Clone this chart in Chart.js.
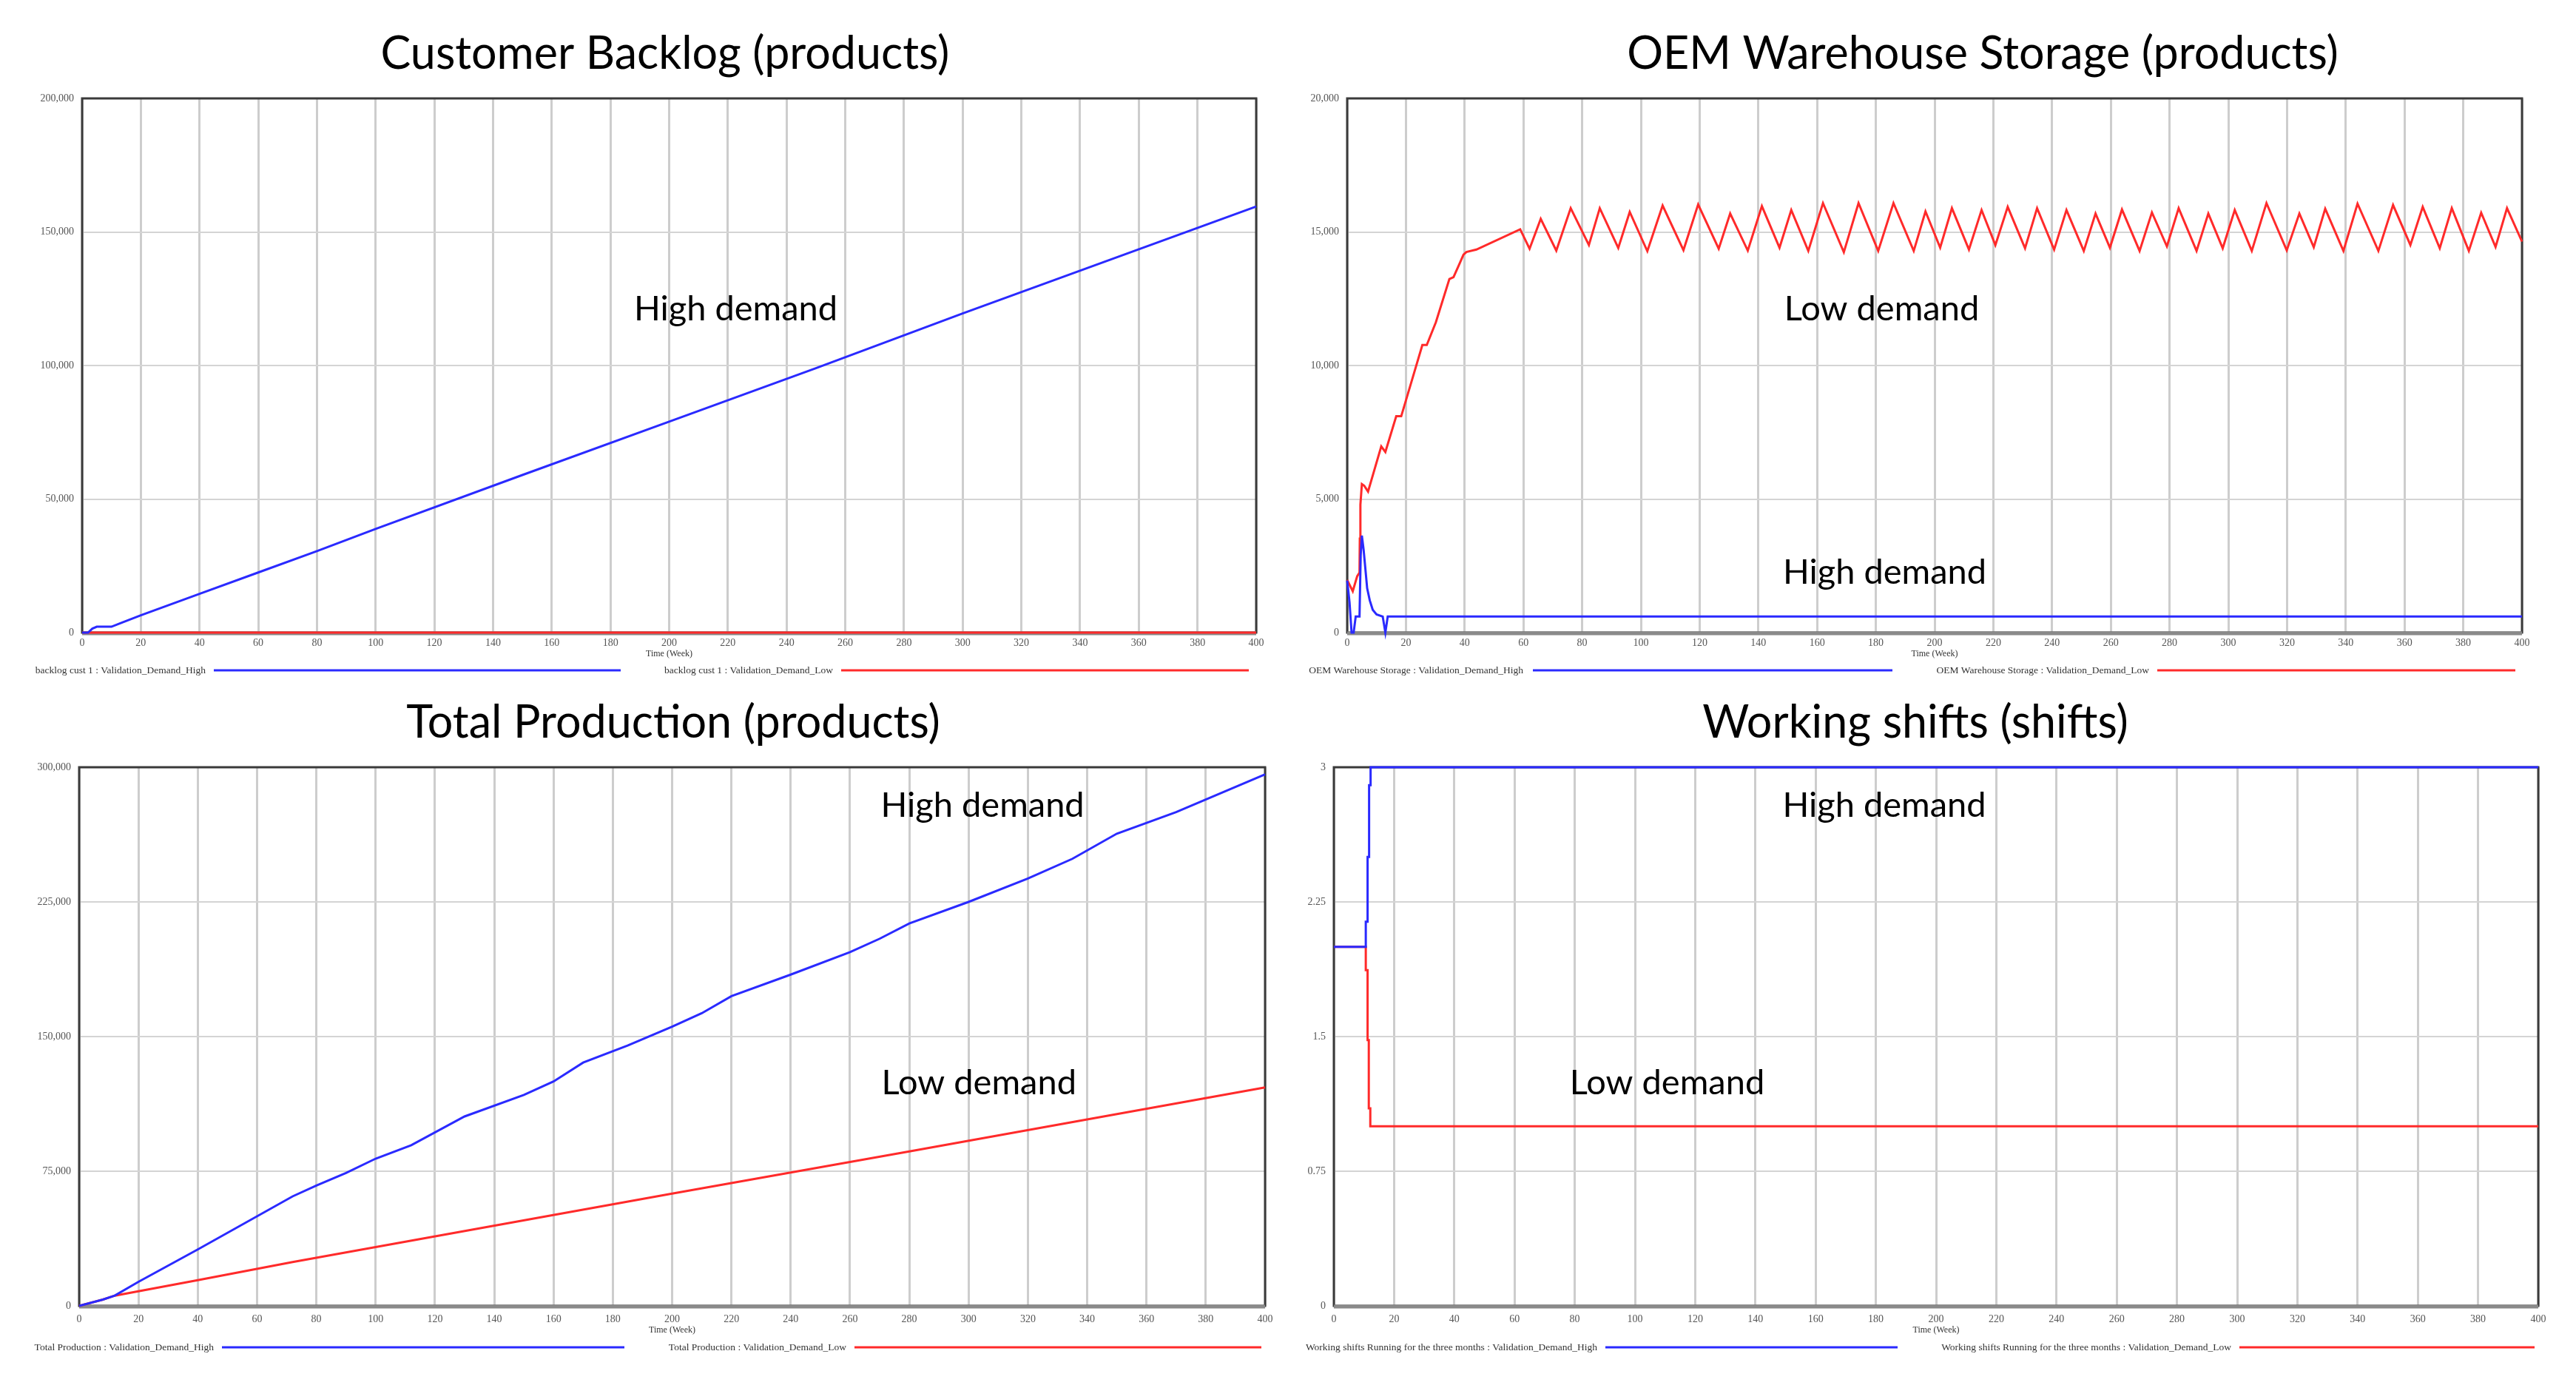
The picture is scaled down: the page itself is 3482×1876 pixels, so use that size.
<!DOCTYPE html>
<html>
<head>
<meta charset="utf-8">
<script src="https://cdn.jsdelivr.net/npm/chart.js@4.4.1/dist/chart.umd.min.js"></script>
<style>
  html, body { margin: 0; padding: 0; background: #fff; overflow: hidden; }
  body { width: 3482px; height: 1876px; position: relative; }
  .panel { position: absolute; }
</style>
</head>
<body>
<div class="panel" style="left:0;top:0"><canvas id="backlog" width="1741" height="938"></canvas></div>
<div class="panel" style="left:1741px;top:0"><canvas id="storage" width="1741" height="938"></canvas></div>
<div class="panel" style="left:0;top:938px"><canvas id="production" width="1741" height="938"></canvas></div>
<div class="panel" style="left:1741px;top:938px"><canvas id="shifts" width="1741" height="938"></canvas></div>
<script>
// Vensim-style validation runs (x = week)
const backlogHighWeeks = [0, 2, 3.5, 5, 10, 13, 20, 40, 60, 80, 100, 150, 200, 250, 300, 350, 400];
const backlogHighValues = [0, 0, 1500, 2200, 2200, 3500, 6500, 14500, 22500, 30500, 38800, 59000, 79000, 99000, 119500, 139500, 159500];
const backlogLowWeeks = [0, 400];
const backlogLowValues = [0, 0];

const storageHighWeeks = [0, 0.8, 1.5, 2.2, 2.9, 4.2, 4.6, 5.0, 5.6, 6.8, 7.7, 8.7, 10, 12.1, 13, 13.8, 400];
const storageHighValues = [1950, 1130, 0, 0, 600, 600, 2900, 3630, 3100, 1660, 1200, 850, 680, 600, 0, 600, 600];
const storageLowWeeks = [0, 1.9, 3.4, 4.2, 4.3, 4.5, 5.0, 5.8, 7.1, 11.6, 13.0, 16.7, 18.4, 25.6, 27.1, 30.2, 34.8, 36.2, 38.2, 39.6, 40.6, 44,
  58.9, 62.1, 65.9, 71.2, 76.1, 82.3, 86, 92.3, 96.2, 102.2, 107.4, 114.5, 119.5, 126.5, 130.4, 136.4, 141.2, 147.2, 151.2, 157, 162,
  169.1, 174.1, 180.8, 186, 192.9, 196.9, 201.9, 205.9, 211.7, 216, 220.7, 224.9, 230.8, 234.9, 240.7, 244.9, 250.8, 254.8, 259.7,
  263.8, 269.8, 274, 279.1, 283.1, 289.2, 293.2, 298.1, 302.2, 308, 313, 319.9, 324.2, 329.1, 333, 339.2, 344, 351.1, 356.1, 362,
  366.2, 372, 376.1, 381.9, 386.1, 391, 394.9, 400];
const storageLowValues = [1970, 1550, 2110, 2250, 3520, 4790, 5560, 5500, 5280, 6970, 6760, 8100, 8100, 10770, 10770, 11620, 13240, 13310, 13800, 14150, 14250, 14340,
  15100, 14370, 15490, 14300, 15890, 14510, 15890, 14400, 15750, 14280, 15990, 14320, 16030, 14370, 15690, 14300, 15965, 14410, 15820, 14290, 16080,
  14240, 16080, 14290, 16080, 14290, 15770, 14410, 15890, 14340, 15820, 14510, 15940, 14390, 15890, 14340, 15820, 14290, 15690, 14410,
  15840, 14290, 15730, 14460, 15890, 14290, 15690, 14390, 15820, 14290, 16080, 14310, 15690, 14430, 15870, 14290, 16060, 14290, 16010, 14510,
  15940, 14390, 15890, 14290, 15720, 14440, 15890, 14640];

const productionHighWeeks = [0, 8, 12, 20, 40, 72, 80, 90, 100, 112, 130, 150, 160, 170, 185, 200, 210, 220, 240, 260, 270, 280, 300, 320, 335, 350, 370, 400];
const productionHighValues = [0, 3500, 5700, 13400, 31400, 61000, 67000, 74000, 82000, 89500, 105500, 117500, 125000, 135500, 145000, 155500, 163000, 172500, 184500, 197000, 204500, 213000, 225000, 238000, 249000, 263000, 275000, 296000];
const productionLowWeeks = [0, 8, 12, 40, 72, 200, 280, 400];
const productionLowValues = [0, 3500, 5700, 14300, 24400, 62500, 86000, 121700];

const shiftsHighWeeks = [0, 10.6, 10.6, 11.2, 11.2, 11.7, 11.7, 12.2, 12.2, 400];
const shiftsHighValues = [2, 2, 2.14, 2.14, 2.5, 2.5, 2.9, 2.9, 3, 3];
const shiftsLowWeeks = [0, 10.6, 10.6, 11.2, 11.2, 11.6, 11.6, 12.1, 12.1, 400];
const shiftsLowValues = [2, 2, 1.87, 1.87, 1.48, 1.48, 1.1, 1.1, 1, 1];

const BLUE = "#2a2aff";
const RED = "#ff2a2a";

const zip = (xs, ys) => xs.map((x, i) => ({ x: x, y: ys[i] }));

// titles, in-plot notes, frame and the Vensim-like legend
const panelText = {
  id: "panelText",
  beforeDatasetsDraw(chart) {
    const a = chart.chartArea, ctx = chart.ctx;
    ctx.save();
    ctx.strokeStyle = "#3a3a3a";
    ctx.lineWidth = 3;
    ctx.strokeRect(a.left, a.top, a.right - a.left, a.bottom - a.top);
    ctx.strokeStyle = "#8a8a8a";
    ctx.lineWidth = 5;
    ctx.beginPath();
    ctx.moveTo(a.left, a.bottom + 1);
    ctx.lineTo(a.right, a.bottom + 1);
    ctx.stroke();
    ctx.restore();
  },
  afterDraw(chart, args, o) {
    const ctx = chart.ctx;
    ctx.save();
    ctx.fillStyle = "#000";
    ctx.textAlign = "center";
    ctx.textBaseline = "middle";
    ctx.font = "61px Lato";
    ctx.fillText(o.title, o.titleX, o.titleY);
    ctx.font = "47px Lato";
    o.notes.forEach((n) => {
      ctx.fillText(n.text, chart.scales.x.getPixelForValue(n.x), chart.scales.y.getPixelForValue(n.y));
    });
    ctx.font = "13.5px 'Liberation Serif'";
    ctx.fillStyle = "#333";
    ctx.textAlign = "right";
    chart.data.datasets.forEach((ds, i) => {
      const it = o.legend[i];
      ctx.fillText(ds.label, it.end, o.legendY);
      ctx.strokeStyle = ds.borderColor;
      ctx.lineWidth = 3;
      ctx.beginPath();
      ctx.moveTo(it.from, o.legendY);
      ctx.lineTo(it.to, o.legendY);
      ctx.stroke();
    });
    ctx.restore();
  },
};

function makeChart(id, p) {
  const tickFont = { family: "'Liberation Serif'", size: 14 };
  return new Chart(document.getElementById(id), {
    type: "line",
    data: {
      datasets: [
        { label: p.names[0], data: p.high, borderColor: BLUE, borderWidth: 3, pointRadius: 0, tension: 0, clip: false },
        { label: p.names[1], data: p.low, borderColor: RED, borderWidth: 3, pointRadius: 0, tension: 0, clip: false },
      ],
    },
    options: {
      responsive: false,
      animation: false,
      layout: { padding: { left: 10, top: p.plot.t, right: 1741 - p.plot.r, bottom: 938 - p.plot.b - p.axisH } },
      scales: {
        x: {
          type: "linear",
          min: 0,
          max: 400,
          afterFit: (s) => { s.height = p.axisH; },
          border: { display: false },
          grid: { color: "#cdcdcd", lineWidth: 3, drawTicks: false },
          ticks: { stepSize: 20, autoSkip: false, maxRotation: 0, padding: p.tickPad, color: "#555", font: tickFont },
          title: { display: true, text: "Time (Week)", padding: 0, color: "#333", font: { family: "'Liberation Serif'", size: 12 } },
        },
        y: {
          min: 0,
          max: p.yMax,
          afterFit: (s) => { s.width = p.plot.l - 10; },
          border: { display: false },
          grid: { color: "#d4d4d4", lineWidth: 2, drawTicks: false },
          ticks: {
            stepSize: p.yStep,
            padding: 11,
            color: "#555",
            font: tickFont,
            callback: (v) => v.toLocaleString("en-US"),
          },
        },
      },
      plugins: {
        legend: { display: false },
        tooltip: { enabled: false },
        panelText: { title: p.title, titleX: p.titleX, titleY: p.titleY, notes: p.notes, legend: p.legend, legendY: p.legendY },
      },
    },
    plugins: [panelText],
  });
}

makeChart("backlog", {
  title: "Customer Backlog (products)", titleX: 899, titleY: 73,
  plot: { l: 111, r: 1698, t: 133, b: 855 }, axisH: 36, tickPad: 6,
  yMax: 200000, yStep: 50000,
  high: zip(backlogHighWeeks, backlogHighValues),
  low: zip(backlogLowWeeks, backlogLowValues),
  names: ["backlog cust 1 : Validation_Demand_High", "backlog cust 1 : Validation_Demand_Low"],
  notes: [{ text: "High demand", x: 222.7, y: 121100 }],
  legendY: 906,
  legend: [{ end: 278, from: 289, to: 839 }, { end: 1126, from: 1137, to: 1688 }],
});

makeChart("storage", {
  title: "OEM Warehouse Storage (products)", titleX: 939, titleY: 73,
  plot: { l: 80, r: 1668, t: 133, b: 855 }, axisH: 36, tickPad: 6,
  yMax: 20000, yStep: 5000,
  high: zip(storageHighWeeks, storageHighValues),
  low: zip(storageLowWeeks, storageLowValues),
  names: ["OEM Warehouse Storage : Validation_Demand_High", "OEM Warehouse Storage : Validation_Demand_Low"],
  notes: [{ text: "Low demand", x: 182, y: 12110 }, { text: "High demand", x: 183, y: 2260 }],
  legendY: 906,
  legend: [{ end: 318, from: 331, to: 817 }, { end: 1164, from: 1175, to: 1659 }],
});

makeChart("production", {
  title: "Total Production (products)", titleX: 910, titleY: 39,
  plot: { l: 107, r: 1710, t: 99, b: 827 }, axisH: 40, tickPad: 10,
  yMax: 300000, yStep: 75000,
  high: zip(productionHighWeeks, productionHighValues),
  low: zip(productionLowWeeks, productionLowValues),
  names: ["Total Production : Validation_Demand_High", "Total Production : Validation_Demand_Low"],
  notes: [{ text: "High demand", x: 304.7, y: 278700 }, { text: "Low demand", x: 303.5, y: 124200 }],
  legendY: 883,
  legend: [{ end: 289, from: 300, to: 844 }, { end: 1144, from: 1155, to: 1705 }],
});

makeChart("shifts", {
  title: "Working shifts (shifts)", titleX: 848, titleY: 39,
  plot: { l: 62, r: 1690, t: 99, b: 827 }, axisH: 40, tickPad: 10,
  yMax: 3, yStep: 0.75,
  high: zip(shiftsHighWeeks, shiftsHighValues),
  low: zip(shiftsLowWeeks, shiftsLowValues),
  names: ["Working shifts Running for the three months : Validation_Demand_High", "Working shifts Running for the three months : Validation_Demand_Low"],
  notes: [{ text: "High demand", x: 182.8, y: 2.787 }, { text: "Low demand", x: 110.7, y: 1.242 }],
  legendY: 883,
  legend: [{ end: 418, from: 429, to: 824 }, { end: 1275, from: 1286, to: 1685 }],
});
</script>
</body>
</html>
